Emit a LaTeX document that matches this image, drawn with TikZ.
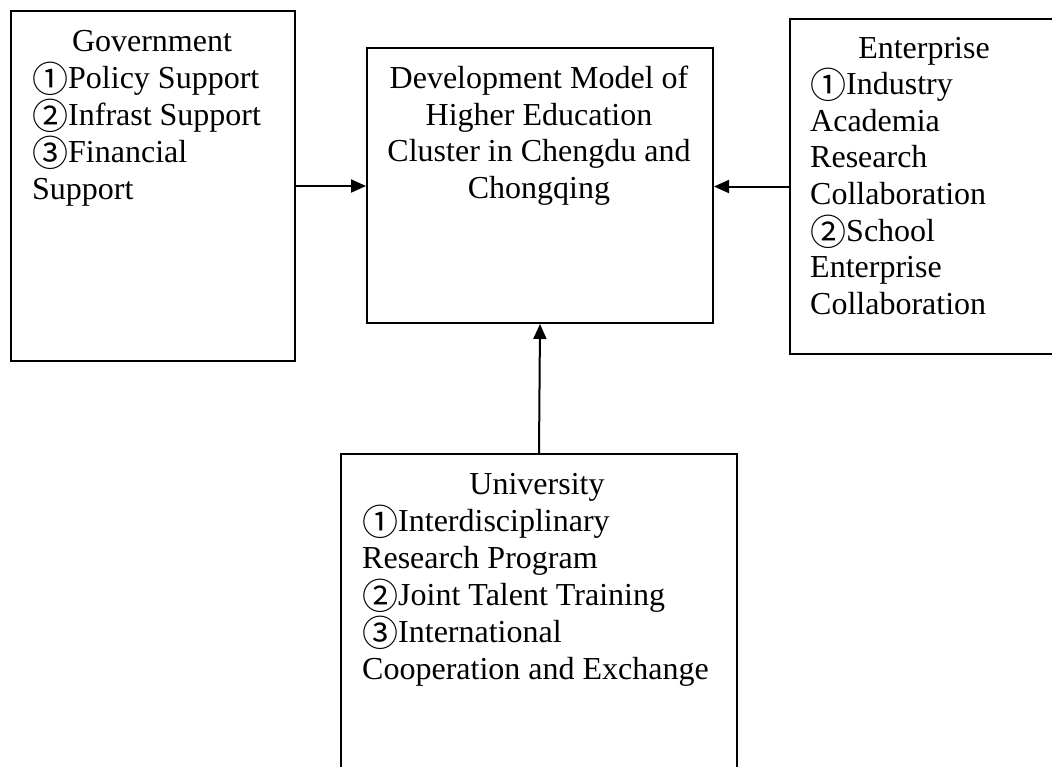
\documentclass[tikz,border=0pt]{standalone}
\usepackage{fontspec}
\setmainfont{Liberation Serif}
\newfontfamily\cjk{Noto Sans CJK SC}
\usetikzlibrary{arrows.meta}
\newcommand{\cn}[1]{\raisebox{-4pt}{\cjk\fontsize{36}{36}\selectfont #1}}
\begin{document}
\begin{tikzpicture}[x=1pt,y=-1pt,
  box/.style={draw, line width=2pt, inner sep=0pt, anchor=north west},
  txt/.style={font=\fontsize{32}{37}\selectfont, inner sep=0pt},
  arr/.style={line width=2pt, -{Triangle[length=15pt,width=13pt]}}]
\useasboundingbox (0,0) rectangle (1052,766);
\clip (0,0) rectangle (1052,766);
\fill[white] (0,0) rectangle (1052,766);
% boxes
\node[box, minimum width=284pt, minimum height=350pt] (gov) at (10,10) {};
\node[box, minimum width=346pt, minimum height=275pt] (center) at (366,47) {};
\node[box, minimum width=273pt, minimum height=335pt] (ent) at (789,18) {};
\node[box, minimum width=396pt, minimum height=340pt] (univ) at (340,453) {};
% government text
\node[txt, anchor=base] (govt) at (152,51) {Government};
\node[txt, anchor=base west] (gov1) at (32,88) {\cn{①}Policy Support};
\node[txt, anchor=base west] (gov2) at (32,125) {\cn{②}Infrast Support};
\node[txt, anchor=base west] (gov3) at (32,162) {\cn{③}Financial};
\node[txt, anchor=base west] (gov4) at (32,199) {Support};
% center text
\node[txt, anchor=base] (c1) at (539,88) {Development Model of};
\node[txt, anchor=base] (c2) at (539,125) {Higher Education};
\node[txt, anchor=base] (c3) at (539,161.5) {Cluster in Chengdu and};
\node[txt, anchor=base] (c4) at (539,198) {Chongqing};
% enterprise text
\node[txt, anchor=base] (entt) at (924,58) {Enterprise};
\node[txt, anchor=base west] (e1) at (810,94.6) {\cn{①}Industry};
\node[txt, anchor=base west] (e2) at (810,131.2) {Academia};
\node[txt, anchor=base west] (e3) at (810,167.8) {Research};
\node[txt, anchor=base west] (e4) at (810,204.4) {Collaboration};
\node[txt, anchor=base west] (e5) at (810,241) {\cn{②}School};
\node[txt, anchor=base west] (e6) at (810,277.6) {Enterprise};
\node[txt, anchor=base west] (e7) at (810,314.2) {Collaboration};
% university text
\node[txt, anchor=base] (univt) at (537,494) {University};
\node[txt, anchor=base west] (u1) at (362,531) {\cn{①}Interdisciplinary};
\node[txt, anchor=base west] (u2) at (362,568) {Research Program};
\node[txt, anchor=base west] (u3) at (362,605) {\cn{②}Joint Talent Training};
\node[txt, anchor=base west] (u4) at (362,642) {\cn{③}International};
\node[txt, anchor=base west] (u5) at (362,679) {Cooperation and Exchange};
% connectors
\draw[arr] (gov.east) -- (center.west |- gov.east);
\draw[arr] (ent.west) -- (center.east |- ent.west);
\draw[arr] (univ.north) -- (center.south);
\end{tikzpicture}
\end{document}
